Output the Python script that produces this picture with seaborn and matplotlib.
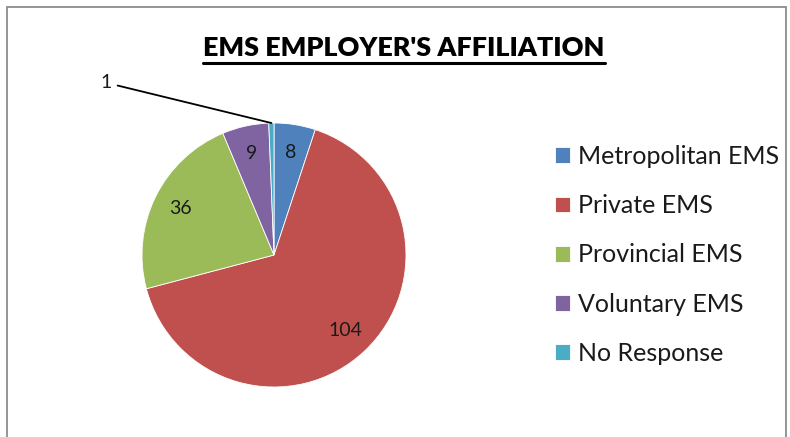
import matplotlib
matplotlib.use('Agg')
import matplotlib.pyplot as plt
import seaborn as sns
from matplotlib.patches import Rectangle
from matplotlib.lines import Line2D
import numpy as np

# data
categories = ['Metropolitan EMS', 'Private EMS', 'Provincial EMS', 'Voluntary EMS', 'No Response']
counts = [8, 104, 36, 9, 1]
colors = ['#4F81BD', '#C0504D', '#9BBB59', '#8064A2', '#4BACC6']
title = "EMS EMPLOYER'S AFFILIATION"

sns.set_theme(style='white')
plt.rcParams['font.family'] = ['Lato', 'DejaVu Sans']

W, H = 790, 437
fig = plt.figure(figsize=(W / 100, H / 100), dpi=100)

# pie centred at (274, 255) px, radius 132 px
cx, cy, r = 274, 255, 132
ax = fig.add_axes([(cx - r) / W, (H - cy - r) / H, 2 * r / W, 2 * r / H])

total = sum(counts)
wedges, texts = ax.pie(counts, colors=colors, startangle=90, counterclock=False,
                       radius=1, frame=False,
                       wedgeprops=dict(linewidth=0.6, edgecolor='white'))
ax.set_xlim(-1, 1)
ax.set_ylim(-1, 1)
ax.set_axis_off()

# value labels inside the slices (small slice gets a leader line)
for w, n in zip(wedges, counts):
    ang = np.deg2rad((w.theta1 + w.theta2) / 2)
    if n / total < 0.02:
        ax.annotate(str(n), xy=(np.cos(ang), np.sin(ang)), xytext=(-1.23, 1.305),
                    ha='right', va='center', fontsize=14, color='#1a1a1a',
                    annotation_clip=False,
                    arrowprops=dict(arrowstyle='-', color='black', lw=1.3,
                                    shrinkA=2, shrinkB=0,
                                    connectionstyle='angle,angleA=0,angleB=-13.7,rad=0'))
    else:
        ax.text(0.79 * np.cos(ang), 0.79 * np.sin(ang), str(n),
                ha='center', va='center', fontsize=14, color='#1a1a1a')

# legend
leg = fig.legend(wedges, categories, loc='center left',
                 bbox_to_anchor=(545 / W, 1 - 255 / H), frameon=False,
                 fontsize=18, handlelength=0.6, handleheight=0.6,
                 handletextpad=0.3, labelspacing=1.05, borderaxespad=0)
for t in leg.get_texts():
    t.set_color('#1a1a1a')

# underlined bold title
ttl = fig.text(404 / W, 1 - 48 / H, title, ha='center', va='center',
               fontsize=19.4, fontweight='heavy', color='black')
fig.canvas.draw()
bb = ttl.get_window_extent().transformed(fig.transFigure.inverted())
fig.add_artist(Line2D([bb.x0, bb.x1], [1 - 63 / H] * 2, color='black', lw=2.2,
                      transform=fig.transFigure))

# outer chart frame
fig.add_artist(Rectangle((6.5 / W, -0.05), (786 - 6.5) / W, 1.05 - 6.5 / H,
                         transform=fig.transFigure, fill=False,
                         edgecolor='#8c8c8c', lw=1.3))

fig.savefig('out.png', dpi=100, facecolor='white')
